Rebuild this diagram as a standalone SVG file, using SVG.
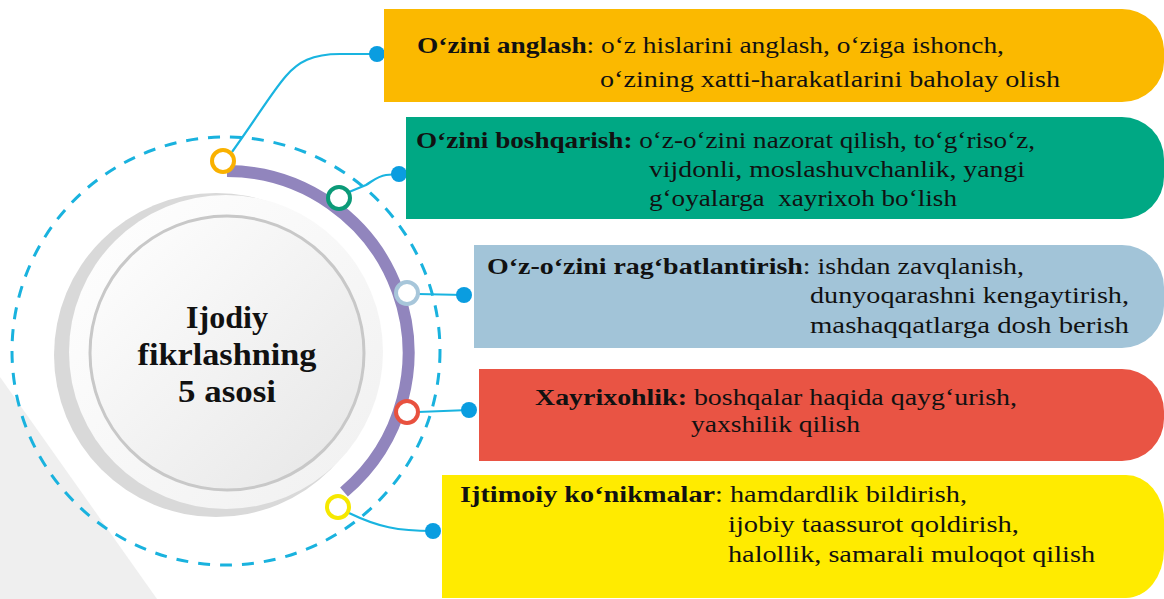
<svg xmlns="http://www.w3.org/2000/svg" width="1164" height="599" viewBox="0 0 1164 599">
<defs>
<style>
.t{font-family:"Liberation Serif","DejaVu Serif",serif;font-size:23px;fill:#111;white-space:pre}
.b{font-weight:bold}
.ct{font-family:"Liberation Serif","DejaVu Serif",serif;font-size:31px;font-weight:bold;fill:#111}
.conn{fill:none;stroke:#19b4e0;stroke-width:2.2}
.dot{fill:#0a9de0}
.ring{fill:#fff;stroke-width:4}
</style>
<linearGradient id="gIn" x1="0" y1="0" x2="1" y2="1">
<stop offset="0" stop-color="#ffffff"/>
<stop offset="1" stop-color="#e6e6e6"/>
</linearGradient>
<linearGradient id="gOut" x1="0" y1="0" x2="1" y2="1">
<stop offset="0" stop-color="#ffffff"/>
<stop offset="1" stop-color="#f0f0f0"/>
</linearGradient>
</defs>
<rect width="1164" height="599" fill="#fff"/>
<polygon points="0,377 157,599 0,599" fill="#efefef"/>

<g id="center">
<circle cx="216" cy="355" r="162" fill="#d9d9d9"/>
<circle cx="226" cy="352" r="157" fill="url(#gOut)"/>
<circle cx="227" cy="353" r="137" fill="url(#gIn)" stroke="#c8c8c8" stroke-width="3"/>
<text class="ct" x="227" y="328" text-anchor="middle" textLength="82" lengthAdjust="spacingAndGlyphs">Ijodiy</text>
<text class="ct" x="227" y="365" text-anchor="middle" textLength="179" lengthAdjust="spacingAndGlyphs">fikrlashning</text>
<text class="ct" x="227" y="402" text-anchor="middle" textLength="98" lengthAdjust="spacingAndGlyphs">5 asosi</text>
</g>

<circle cx="226" cy="351" r="214" fill="none" stroke="#19b2de" stroke-width="3" stroke-dasharray="12 10"/>
<path d="M227,171 A182,182 0 0 1 344,492" fill="none" stroke="#9185bd" stroke-width="12"/>

<g id="connectors">
<path class="conn" d="M232,152 C258,116 272,92 286,76 C298,62 312,54 340,54 L377,54"/>
<path class="conn" d="M349,192 L366,185 C374,180 378,176 386,175 L399,174"/>
<path class="conn" d="M418,294 L464,295"/>
<path class="conn" d="M418,412 L469,410"/>
<path class="conn" d="M349,513 C378,527 398,531 433,531"/>
<circle class="dot" cx="377" cy="54" r="8"/>
<circle class="dot" cx="399" cy="174" r="8"/>
<circle class="dot" cx="464" cy="295" r="8"/>
<circle class="dot" cx="469" cy="410" r="8"/>
<circle class="dot" cx="433" cy="531" r="8"/>
</g>

<g id="markers">
<circle class="ring" cx="223" cy="161" r="11" stroke="#f9b100"/>
<circle class="ring" cx="339" cy="198" r="11" stroke="#0b9a78"/>
<circle class="ring" cx="407" cy="293" r="11" stroke="#a7c6da"/>
<circle class="ring" cx="407" cy="412" r="11" stroke="#e8513f"/>
<circle class="ring" cx="338" cy="507" r="11" stroke="#f6e800"/>
</g>

<g id="node1">
<path d="M384,9 H1122 A42,42 0 0 1 1164,49 V62 A42,40 0 0 1 1122,102 H384 Z" fill="#fbb900"/>
<text class="t" x="417" y="53" textLength="587" lengthAdjust="spacingAndGlyphs"><tspan class="b">O‘zini anglash</tspan>: o‘z hislarini anglash, o‘ziga ishonch,</text>
<text class="t" x="600" y="87" textLength="460" lengthAdjust="spacingAndGlyphs">o‘zining xatti-harakatlarini baholay olish</text>
</g>

<g id="node2">
<path d="M406,117 H1122 A42,42 0 0 1 1164,159 V177 A42,42 0 0 1 1122,219 H406 Z" fill="#00a884"/>
<text class="t" x="416" y="148" textLength="619" lengthAdjust="spacingAndGlyphs"><tspan class="b">O‘zini boshqarish:</tspan> o‘z-o‘zini nazorat qilish, to‘g‘riso‘z,</text>
<text class="t" x="649" y="177" textLength="376" lengthAdjust="spacingAndGlyphs">vijdonli, moslashuvchanlik, yangi</text>
<text class="t" x="649" y="206" textLength="308" lengthAdjust="spacingAndGlyphs">g‘oyalarga  xayrixoh bo‘lish</text>
</g>

<g id="node3">
<path d="M474,245 H1122 A42,42 0 0 1 1164,287 V306 A42,42 0 0 1 1122,348 H474 Z" fill="#a2c4d8"/>
<text class="t" x="487" y="274" textLength="537" lengthAdjust="spacingAndGlyphs"><tspan class="b">O‘z-o‘zini rag‘batlantirish</tspan>: ishdan zavqlanish,</text>
<text class="t" x="810" y="303" textLength="319" lengthAdjust="spacingAndGlyphs">dunyoqarashni kengaytirish,</text>
<text class="t" x="810" y="333" textLength="319" lengthAdjust="spacingAndGlyphs">mashaqqatlarga dosh berish</text>
</g>

<g id="node4">
<path d="M479,369 H1122 A42,42 0 0 1 1164,411 V419 A42,42 0 0 1 1122,461 H479 Z" fill="#e95444"/>
<text class="t" x="535" y="405" textLength="482" lengthAdjust="spacingAndGlyphs"><tspan class="b">Xayrixohlik:</tspan> boshqalar haqida qayg‘urish,</text>
<text class="t" x="691" y="432" textLength="169" lengthAdjust="spacingAndGlyphs">yaxshilik qilish</text>
</g>

<g id="node5">
<path d="M442,475 H1126 A38,45 0 0 1 1164,520 V550 A38,48 0 0 1 1126,598 H442 Z" fill="#ffeb00"/>
<text class="t" x="460" y="502" textLength="507" lengthAdjust="spacingAndGlyphs"><tspan class="b">Ijtimoiy ko‘nikmalar</tspan>: hamdardlik bildirish,</text>
<text class="t" x="728" y="532" textLength="291" lengthAdjust="spacingAndGlyphs">ijobiy taassurot qoldirish,</text>
<text class="t" x="728" y="562" textLength="367" lengthAdjust="spacingAndGlyphs">halollik, samarali muloqot qilish</text>
</g>
</svg>
